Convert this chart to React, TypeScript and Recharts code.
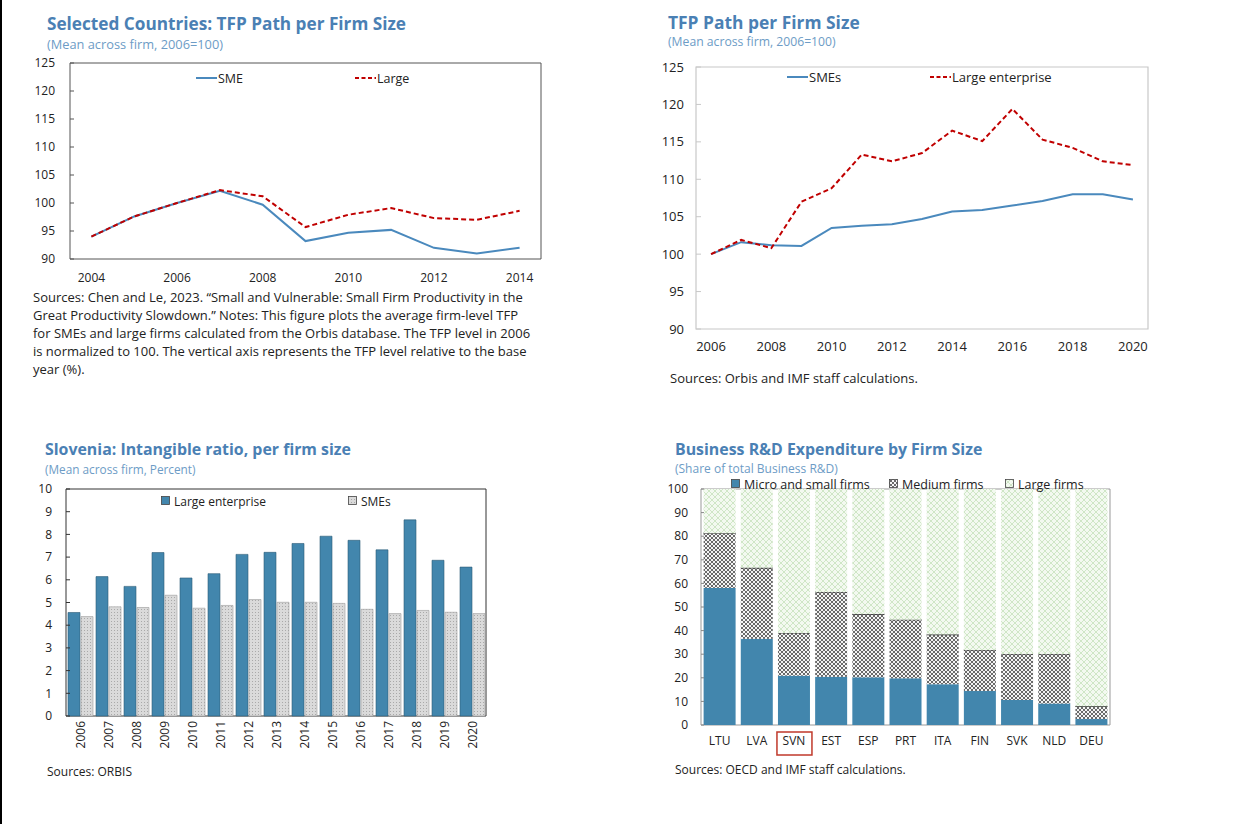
import React from 'react';
import { LineChart, Line, BarChart, Bar, XAxis, YAxis, Legend, ReferenceArea } from 'recharts';

const FONT = '"Open Sans", "Noto Sans", Arial, sans-serif';
const TITLE_BLUE = '#4a80b4';
const SUB_BLUE = '#6d9cc6';
const LINE_BLUE = '#4a89bd';
const DASH_RED = '#c00000';
const BAR_BLUE = '#4286ad';
const TEXT = '#222';

// top left: selected countries, 2004-2014
const years1 = [2004, 2005, 2006, 2007, 2008, 2009, 2010, 2011, 2012, 2013, 2014];
const sme1 = [94.0, 97.6, 100.0, 102.2, 99.7, 93.2, 94.7, 95.2, 92.0, 91.0, 92.0];
const large1 = [94.0, 97.6, 100.0, 102.3, 101.2, 95.7, 97.9, 99.1, 97.3, 97.0, 98.6];
const xLabels1 = [2004, 2006, 2008, 2010, 2012, 2014];
const xMarks1 = [2004.5, 2005.5, 2006.5, 2007.5, 2008.5, 2009.5, 2010.5, 2011.5, 2012.5, 2013.5];
const yTicksTfp = [90, 95, 100, 105, 110, 115, 120, 125];

// top right: TFP path 2006-2020
const years2 = [2006, 2007, 2008, 2009, 2010, 2011, 2012, 2013, 2014, 2015, 2016, 2017, 2018, 2019, 2020];
const sme2 = [100.0, 101.6, 101.2, 101.1, 103.5, 103.8, 104.0, 104.7, 105.7, 105.9, 106.5, 107.1, 108.0, 108.0, 107.3];
const large2 = [100.0, 101.9, 100.8, 107.0, 108.8, 113.3, 112.4, 113.5, 116.5, 115.1, 119.4, 115.3, 114.2, 112.4, 111.9];
const xLabels2 = [2006, 2008, 2010, 2012, 2014, 2016, 2018, 2020];
const xMarks2 = [2009.5, 2013.5, 2017.5];

// bottom left: Slovenia intangible ratio
const years3 = ['2006', '2007', '2008', '2009', '2010', '2011', '2012', '2013', '2014', '2015', '2016', '2017', '2018', '2019', '2020'];
const largeIntangible = [4.56, 6.14, 5.71, 7.2, 6.08, 6.27, 7.12, 7.21, 7.6, 7.92, 7.74, 7.32, 8.64, 6.86, 6.56];
const smeIntangible = [4.38, 4.81, 4.78, 5.32, 4.75, 4.87, 5.13, 5.01, 5.01, 4.96, 4.7, 4.51, 4.65, 4.57, 4.51];
const yTicks3 = [0, 1, 2, 3, 4, 5, 6, 7, 8, 9, 10];

// bottom right: business R&D shares
const countries = ['LTU', 'LVA', 'SVN', 'EST', 'ESP', 'PRT', 'ITA', 'FIN', 'SVK', 'NLD', 'DEU'];
const microSmall = [58.1, 36.5, 20.9, 20.4, 20.2, 19.8, 17.3, 14.4, 10.6, 9.1, 2.5];
const mediumFirms = [23.2, 30.1, 18.1, 36.0, 26.8, 24.8, 21.0, 17.4, 19.5, 21.0, 5.4];
const largeFirms = [18.7, 33.4, 61.0, 43.6, 53.0, 55.4, 61.7, 68.2, 69.9, 69.9, 92.1];
const yTicks4 = [0, 10, 20, 30, 40, 50, 60, 70, 80, 90, 100];

const rows1 = years1.map((year, i) => ({ year, sme: sme1[i], large: large1[i] }));
const rows2 = years2.map((year, i) => ({ year, sme: sme2[i], large: large2[i] }));
const rows3 = years3.map((year, i) => ({ year, large: largeIntangible[i], sme: smeIntangible[i] }));
const rows4 = countries.map((c, i) => ({ c, micro: microSmall[i], medium: mediumFirms[i], large: largeFirms[i] }));

type Item = { label: string; left: number; kind: 'line' | 'dash' | 'box'; color: string };

const legendContent = (items: Item[], fontSize: number) => () => (
  <div style={{ position: 'relative', height: 16, fontFamily: FONT, fontSize, color: TEXT }}>
    {items.map((it) => (
      <div key={it.label} style={{ position: 'absolute', left: it.left, top: 0, height: 16, display: 'flex', alignItems: 'center', whiteSpace: 'nowrap' }}>
        {it.kind === 'box' ? (
          <svg width={10} height={10} style={{ marginRight: 3 }}>
            <rect x={0.5} y={0.5} width={8} height={8} fill={it.color} stroke="#444" strokeWidth={0.8} />
          </svg>
        ) : (
          <svg width={21} height={10} style={{ marginRight: 1 }}>
            <line x1={0} x2={21} y1={5} y2={5} stroke={it.color} strokeWidth={2} strokeDasharray={it.kind === 'dash' ? '4 2.5' : undefined} />
          </svg>
        )}
        <span>{it.label}</span>
      </div>
    ))}
  </div>
);

type TitleProps = { left: number; top: number; title: string; sub: string; size: number; subSize: number };

const Title = ({ left, top, title, sub, size, subSize }: TitleProps) => (
  <div style={{ position: 'absolute', left, top, fontFamily: FONT, whiteSpace: 'nowrap' }}>
    <div style={{ fontSize: size, fontWeight: 700, color: TITLE_BLUE, lineHeight: '20px' }}>{title}</div>
    <div style={{ fontSize: subSize, color: SUB_BLUE, lineHeight: '14px', marginTop: 3 }}>{sub}</div>
  </div>
);

const Note = ({ left, top, size, children }: { left: number; top: number; size: number; children: React.ReactNode }) => (
  <div style={{ position: 'absolute', left, top, fontFamily: FONT, fontSize: size, lineHeight: '18px', color: TEXT, whiteSpace: 'nowrap' }}>
    {children}
  </div>
);

const YearTick = (props: any) => {
  const { x, y, payload } = props;
  return (
    <text x={x} y={y} transform={`rotate(-90 ${x} ${y})`} textAnchor="end" dominantBaseline="central" fontSize={12} fontFamily={FONT} fill={TEXT}>
      {payload.value}
    </text>
  );
};

const CountryTick = (props: any) => {
  const { x, y, payload } = props;
  return (
    <g>
      {payload.value === 'SVN' && <rect x={x - 17} y={y - 4} width={35} height={23} fill="none" stroke="#c0392b" strokeWidth={1.5} />}
      <text x={x} y={y} dy="0.71em" textAnchor="middle" fontSize={12} fontFamily={FONT} fill={TEXT}>
        {payload.value}
      </text>
    </g>
  );
};

const MediumRect = (props: any) => {
  const { x, y, width, height, fill } = props;
  return (
    <g>
      <rect x={x} y={y} width={width} height={height} fill={fill} />
      <line x1={x} x2={x + width} y1={y} y2={y} stroke="#333" strokeWidth={1.2} />
    </g>
  );
};

const tickFont = (size: number) => ({ fontSize: size, fill: TEXT, fontFamily: FONT });

function TfpTopLeft() {
  return (
    <div style={{ position: 'absolute', left: 0, top: 50 }}>
      <LineChart width={560} height={250} data={rows1} margin={{ top: 13, right: 19, bottom: 10, left: 0 }}>
        <XAxis xAxisId={0} type="number" domain={[2003.5, 2014.5]} ticks={xMarks1} interval={0} tick={false} axisLine={false} tickSize={-5} height={1} stroke="#555" allowDataOverflow />
        <XAxis xAxisId="lab" dataKey="year" type="number" domain={[2003.5, 2014.5]} ticks={xLabels1} interval={0} axisLine={false} tickLine={false} tickSize={0} tickMargin={13} height={30} tick={tickFont(12)} allowDataOverflow />
        <YAxis domain={[90, 125]} ticks={yTicksTfp} interval={0} width={70} tickSize={-4} tickMargin={19} axisLine={false} stroke="#555" tick={tickFont(12)} allowDataOverflow />
        <ReferenceArea xAxisId="lab" y1={90} y2={125} fill="none" stroke="#555" strokeWidth={1} ifOverflow="visible" />
        <Line xAxisId="lab" dataKey="sme" stroke={LINE_BLUE} strokeWidth={2} dot={false} isAnimationActive={false} />
        <Line xAxisId="lab" dataKey="large" stroke={DASH_RED} strokeWidth={2} strokeDasharray="5 3" dot={false} isAnimationActive={false} />
        <Legend layout="horizontal" verticalAlign="middle" align="center" wrapperStyle={{ top: 20, left: 0, width: 560 }}
          content={legendContent([
            { label: 'SME', left: 196, kind: 'line', color: LINE_BLUE },
            { label: 'Large', left: 355, kind: 'dash', color: DASH_RED },
          ], 12.5)} />
      </LineChart>
    </div>
  );
}

function TfpTopRight() {
  return (
    <div style={{ position: 'absolute', left: 640, top: 50 }}>
      <LineChart width={530} height={320} data={rows2} margin={{ top: 17, right: 22, bottom: 20, left: 0 }}>
        <XAxis xAxisId={0} type="number" domain={[2005.5, 2020.5]} ticks={xMarks2} interval={0} tick={false} axisLine={false} tickSize={-5} height={1} stroke="#c8c8c8" allowDataOverflow />
        <XAxis xAxisId="lab" dataKey="year" type="number" domain={[2005.5, 2020.5]} ticks={xLabels2} interval={0} axisLine={false} tickLine={false} tickSize={0} tickMargin={12} height={20} tick={tickFont(13)} allowDataOverflow />
        <YAxis domain={[90, 125]} ticks={yTicksTfp} interval={0} width={56} tickSize={-5} tickMargin={17} axisLine={false} stroke="#c8c8c8" tick={tickFont(13)} allowDataOverflow />
        <ReferenceArea xAxisId="lab" y1={90} y2={125} fill="none" stroke="#c8c8c8" strokeWidth={1.2} ifOverflow="visible" />
        <Line xAxisId="lab" dataKey="sme" stroke={LINE_BLUE} strokeWidth={2} dot={false} isAnimationActive={false} />
        <Line xAxisId="lab" dataKey="large" stroke={DASH_RED} strokeWidth={2} strokeDasharray="5 3" dot={false} isAnimationActive={false} />
        <Legend layout="horizontal" verticalAlign="middle" align="center" wrapperStyle={{ top: 19, left: 0, width: 530 }}
          content={legendContent([
            { label: 'SMEs', left: 147, kind: 'line', color: LINE_BLUE },
            { label: 'Large enterprise', left: 290, kind: 'dash', color: DASH_RED },
          ], 13)} />
      </LineChart>
    </div>
  );
}

function IntangibleChart() {
  return (
    <div style={{ position: 'absolute', left: 0, top: 480 }}>
      <BarChart width={500} height={290} data={rows3} margin={{ top: 9, right: 14, bottom: 9, left: 0 }} barCategoryGap={2} barGap={1}>
        <defs>
          <pattern id="smeDots" patternUnits="userSpaceOnUse" width={3} height={3}>
            <rect width={3} height={3} fill="#dadada" />
            <rect width={1} height={1} fill="#a9a9a9" />
          </pattern>
        </defs>
        <XAxis dataKey="year" interval={0} axisLine={false} tickLine={false} tickSize={0} tickMargin={5} height={45} tick={<YearTick />} />
        <YAxis domain={[0, 10]} ticks={yTicks3} interval={0} width={66} tickSize={-4} tickMargin={18} axisLine={false} stroke="#333" tick={tickFont(12)} />
        <Bar dataKey="large" fill={BAR_BLUE} stroke="#2b5a76" strokeWidth={0.6} isAnimationActive={false} />
        <Bar dataKey="sme" fill="url(#smeDots)" stroke="#9a9a9a" strokeWidth={0.6} isAnimationActive={false} />
        <ReferenceArea y1={0} y2={10} fill="none" stroke="#333" strokeWidth={1} ifOverflow="visible" />
        <Legend layout="horizontal" verticalAlign="middle" align="center" wrapperStyle={{ top: 13, left: 0, width: 500 }}
          content={legendContent([
            { label: 'Large enterprise', left: 161, kind: 'box', color: BAR_BLUE },
            { label: 'SMEs', left: 348, kind: 'box', color: 'url(#smeDots)' },
          ], 12)} />
      </BarChart>
    </div>
  );
}

function RdChart() {
  return (
    <div style={{ position: 'absolute', left: 640, top: 470 }}>
      <BarChart width={490} height={300} data={rows4} margin={{ top: 19, right: 20, bottom: 15, left: 0 }} barCategoryGap="7%">
        <defs>
          <pattern id="medHatch" patternUnits="userSpaceOnUse" width={4} height={4}>
            <rect width={4} height={4} fill="#f4f4f4" />
            <path d="M0,0 L4,4 M4,0 L0,4" stroke="#5a5a5a" strokeWidth={0.9} />
          </pattern>
          <pattern id="largeCheck" patternUnits="userSpaceOnUse" width={6} height={6}>
            <rect width={6} height={6} fill="#f3f9f0" />
            <path d="M0,0 L6,6 M6,0 L0,6" stroke="#cfe6c6" strokeWidth={1} />
          </pattern>
        </defs>
        <XAxis dataKey="c" interval={0} axisLine={false} tickLine={false} tickSize={0} tickMargin={11} height={30} tick={<CountryTick />} />
        <YAxis domain={[0, 100]} ticks={yTicks4} interval={0} width={61} tickSize={-3} tickMargin={16} axisLine={false} stroke="#888" tick={tickFont(12)} />
        <Bar stackId="rd" dataKey="micro" fill={BAR_BLUE} isAnimationActive={false} />
        <Bar stackId="rd" dataKey="medium" fill="url(#medHatch)" shape={<MediumRect />} isAnimationActive={false} />
        <Bar stackId="rd" dataKey="large" fill="url(#largeCheck)" isAnimationActive={false} />
        <ReferenceArea y1={0} y2={100} fill="none" stroke="#999" strokeWidth={1} ifOverflow="visible" />
        <Legend layout="horizontal" verticalAlign="middle" align="center" wrapperStyle={{ top: 6, left: 0, width: 490 }}
          content={legendContent([
            { label: 'Micro and small firms', left: 91, kind: 'box', color: BAR_BLUE },
            { label: 'Medium firms', left: 249, kind: 'box', color: 'url(#medHatch)' },
            { label: 'Large firms', left: 365, kind: 'box', color: 'url(#largeCheck)' },
          ], 12.5)} />
      </BarChart>
    </div>
  );
}

export default function App() {
  return (
    <div style={{ position: 'absolute', left: 0, top: 0, width: 1239, height: 824, background: '#fff', overflow: 'hidden' }}>
      <div style={{ position: 'absolute', left: 0, top: 0, width: 2, height: 824, background: '#000' }} />

      <Title left={47} top={14} size={17.2} subSize={12.8} title="Selected Countries: TFP Path per Firm Size" sub="(Mean across firm, 2006=100)" />
      <TfpTopLeft />
      <Note left={33} top={288} size={13}>
        Sources: Chen and Le, 2023. “Small and Vulnerable: Small Firm Productivity in the<br />
        Great Productivity Slowdown.” Notes: This figure plots the average firm-level TFP<br />
        for SMEs and large firms calculated from the Orbis database. The TFP level in 2006<br />
        is normalized to 100. The vertical axis represents the TFP level relative to the base<br />
        year (%).
      </Note>

      <Title left={668} top={12} size={17.4} subSize={12.2} title="TFP Path per Firm Size" sub="(Mean across firm, 2006=100)" />
      <TfpTopRight />
      <Note left={670} top={369} size={13}>Sources: Orbis and IMF staff calculations.</Note>

      <Title left={45} top={439} size={15.9} subSize={11.8} title="Slovenia: Intangible ratio, per firm size" sub="(Mean across firm, Percent)" />
      <IntangibleChart />
      <Note left={47} top={763} size={12}>Sources: ORBIS</Note>

      <Title left={675} top={439} size={15.9} subSize={12} title="Business R&D Expenditure by Firm Size" sub="(Share of total Business R&D)" />
      <RdChart />
      <Note left={675} top={761} size={12}>Sources: OECD and IMF staff calculations.</Note>
    </div>
  );
}
